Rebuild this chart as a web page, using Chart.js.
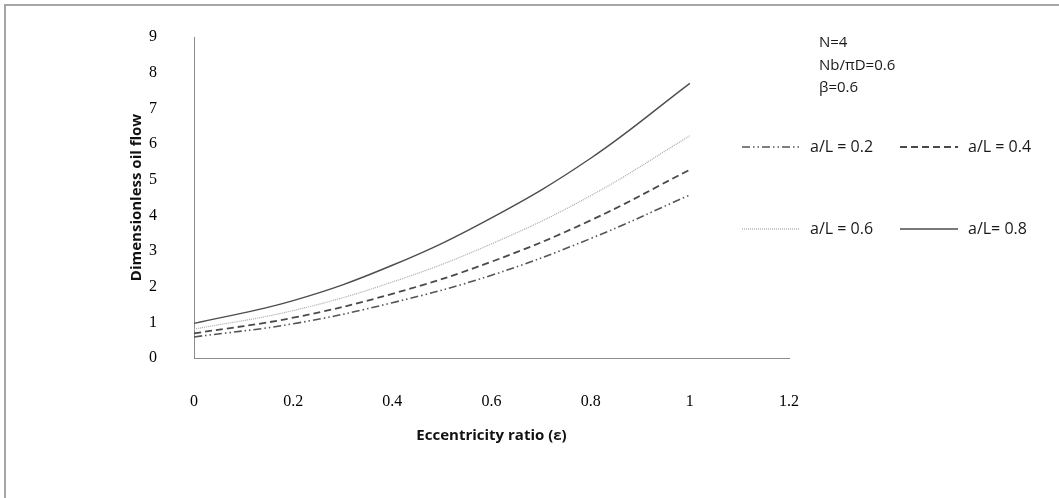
<!DOCTYPE html>
<html>
<head>
<meta charset="utf-8">
<script src="https://cdn.jsdelivr.net/npm/chart.js@4.4.0/dist/chart.umd.min.js"></script>
<style>
  html, body { margin: 0; padding: 0; background: #fff; }
  #wrap { position: relative; width: 1059px; height: 498px; }
  #frame { position: absolute; left: 4px; top: 4px; right: -10px; bottom: -10px; border-left: 2px solid #a6a6a6; border-top: 2px solid #a6a6a6; }
  canvas { position: absolute; left: 0; top: 0; }
</style>
</head>
<body>
<div id="wrap">
  <div id="frame"></div>
  <canvas id="oilChart" width="1059" height="498"></canvas>
</div>
<script>
// eccentricity ratio values
const eps = [0, 0.2, 0.4, 0.6, 0.8, 1.0];

// dimensionless oil flow for each a/L
const flow02 = [0.59, 0.96, 1.55, 2.32, 3.35, 4.57];
const flow04 = [0.69, 1.13, 1.80, 2.70, 3.86, 5.28];
const flow06 = [0.81, 1.33, 2.13, 3.20, 4.55, 6.23];
const flow08 = [0.97, 1.61, 2.60, 3.93, 5.60, 7.70];

const seriesLabels = ['a/L = 0.2', 'a/L = 0.4', 'a/L = 0.6', 'a/L= 0.8'];
const xTicks = [0, 0.2, 0.4, 0.6, 0.8, 1, 1.2];
const yTicks = [0, 1, 2, 3, 4, 5, 6, 7, 8, 9];
const notes = ['N=4', 'Nb/\u03c0D=0.6', '\u03b2=0.6'];

function toPoints(ys) {
    return eps.map((x, i) => ({ x: x, y: ys[i] }));
}

// legend in a 2x2 grid + parameter notes at top right
const sideText = {
    id: 'sideText',
    afterDraw(chart) {
        const ctx = chart.ctx;
        ctx.save();
        ctx.fillStyle = '#1a1a1a';
        ctx.font = '15px "Open Sans", sans-serif';
        ctx.textBaseline = 'middle';
        notes.forEach((t, i) => ctx.fillText(t, 819, 43 + i * 22.5));

        ctx.font = '16px "Open Sans", sans-serif';
        const cells = [[742, 147], [900, 147], [742, 229], [900, 229]];
        chart.data.datasets.forEach((ds, i) => {
            const [x, y] = cells[i];
            ctx.beginPath();
            ctx.strokeStyle = ds.borderColor;
            ctx.lineWidth = ds.borderWidth;
            ctx.setLineDash(ds.borderDash || []);
            ctx.moveTo(x, y);
            ctx.lineTo(x + 58, y);
            ctx.stroke();
            ctx.setLineDash([]);
            ctx.fillText(ds.label, x + 68, y);
        });
        ctx.restore();
    }
};

const ctx = document.getElementById('oilChart').getContext('2d');
new Chart(ctx, {
    type: 'line',
    data: {
        datasets: [
            {
                label: seriesLabels[0],
                data: toPoints(flow02),
                borderColor: '#555',
                borderWidth: 1.6,
                borderDash: [8, 3, 1.5, 3, 1.5, 3]
            },
            {
                label: seriesLabels[1],
                data: toPoints(flow04),
                borderColor: '#4a4a4a',
                borderWidth: 1.8,
                borderDash: [7, 4]
            },
            {
                label: seriesLabels[2],
                data: toPoints(flow06),
                borderColor: '#a8a8a8',
                borderWidth: 1.2,
                borderDash: [1, 1]
            },
            {
                label: seriesLabels[3],
                data: toPoints(flow08),
                borderColor: '#4d4d4d',
                borderWidth: 1.4
            }
        ]
    },
    options: {
        responsive: false,
        animation: false,
        layout: { padding: { left: 0, top: 37, right: 270, bottom: 0 } },
        elements: {
            point: { radius: 0 },
            line: { tension: 0.4, fill: false }
        },
        plugins: {
            legend: { display: false },
            tooltip: { enabled: false }
        },
        scales: {
            x: {
                type: 'linear',
                min: 0,
                max: 1.2,
                afterBuildTicks: (scale) => { scale.ticks = xTicks.map(v => ({ value: v })); },
                afterFit: (scale) => { scale.height = 140; scale.paddingTop = 0; scale.paddingBottom = 0; },
                grid: { display: false },
                border: { display: true, color: '#8c8c8c', width: 1 },
                ticks: {
                    padding: 26,
                    color: '#000',
                    font: { family: '"Liberation Serif", serif', size: 16 },
                    callback: (v) => String(v)
                },
                title: {
                    display: true,
                    text: 'Eccentricity ratio (\u03b5)',
                    color: '#111',
                    font: { family: '"Open Sans", sans-serif', size: 15, weight: 'bold' },
                    padding: { top: 0, bottom: 53 }
                }
            },
            y: {
                min: 0,
                max: 9,
                afterBuildTicks: (scale) => { scale.ticks = yTicks.map(v => ({ value: v })); },
                afterFit: (scale) => { scale.width = 194; scale.paddingTop = 0; scale.paddingBottom = 0; },
                grid: { display: false },
                border: { display: true, color: '#8c8c8c', width: 1 },
                ticks: {
                    padding: 29,
                    color: '#000',
                    font: { family: '"Liberation Serif", serif', size: 16 }
                },
                title: {
                    display: true,
                    text: 'Dimensionless oil flow',
                    color: '#111',
                    font: { family: '"Open Sans", sans-serif', size: 15, weight: 'bold' },
                    padding: { top: 128, bottom: 0 }
                }
            }
        }
    },
    plugins: [sideText]
});
</script>
</body>
</html>
